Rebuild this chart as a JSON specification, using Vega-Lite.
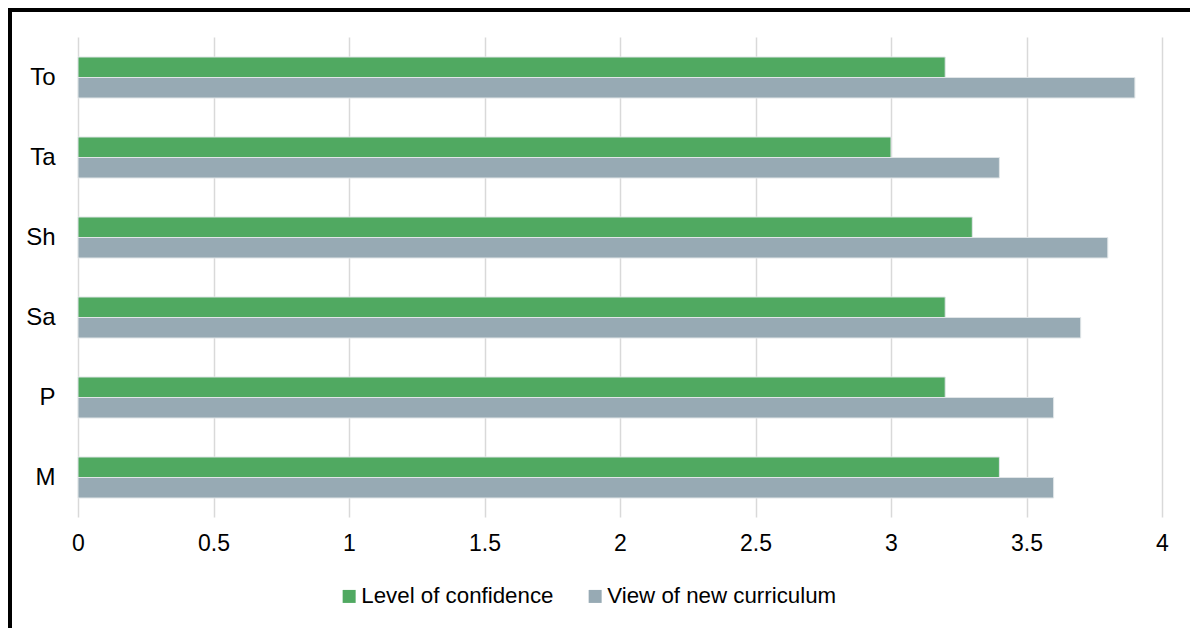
{
  "$schema": "https://vega.github.io/schema/vega-lite/v6.json",
  "width": 1180,
  "height": 618,
  "autosize": {"type": "none"},
  "padding": {"left": 10, "top": 10, "right": 0, "bottom": 0},
  "background": "white",
  "config": {
    "font": "Liberation Sans",
    "view": {
      "stroke": "black",
      "strokeWidth": 4,
      "strokeDash": [1180, 1798, 618],
      "strokeCap": "square"
    }
  },
  "data": {
    "values": [
      {"region": "To", "series": "Level of confidence", "value": 3.2},
      {"region": "To", "series": "View of new curriculum", "value": 3.9},
      {"region": "Ta", "series": "Level of confidence", "value": 3.0},
      {"region": "Ta", "series": "View of new curriculum", "value": 3.4},
      {"region": "Sh", "series": "Level of confidence", "value": 3.3},
      {"region": "Sh", "series": "View of new curriculum", "value": 3.8},
      {"region": "Sa", "series": "Level of confidence", "value": 3.2},
      {"region": "Sa", "series": "View of new curriculum", "value": 3.7},
      {"region": "P", "series": "Level of confidence", "value": 3.2},
      {"region": "P", "series": "View of new curriculum", "value": 3.6},
      {"region": "M", "series": "Level of confidence", "value": 3.4},
      {"region": "M", "series": "View of new curriculum", "value": 3.6}
    ]
  },
  "mark": {"type": "bar", "stroke": "#e1e6e8", "strokeWidth": 1},
  "encoding": {
    "y": {
      "field": "region",
      "type": "nominal",
      "sort": ["To", "Ta", "Sh", "Sa", "P", "M"],
      "scale": {"range": [27, 508], "paddingInner": 0.4875, "paddingOuter": 0.25},
      "axis": {
        "title": null,
        "orient": "left",
        "offset": -68,
        "domain": false,
        "ticks": false,
        "labelPadding": 23,
        "labelFontSize": 24,
        "labelColor": "#000000"
      }
    },
    "yOffset": {
      "field": "series",
      "sort": ["Level of confidence", "View of new curriculum"],
      "scale": {"paddingInner": 0, "paddingOuter": 0}
    },
    "x": {
      "field": "value",
      "type": "quantitative",
      "scale": {"domain": [0, 4], "range": [68, 1152], "nice": false},
      "axis": {
        "title": null,
        "orient": "bottom",
        "offset": -111,
        "values": [0, 0.5, 1, 1.5, 2, 2.5, 3, 3.5, 4],
        "format": "~g",
        "grid": false,
        "domain": false,
        "tickSize": -480,
        "tickColor": "#d9d9d9",
        "tickWidth": 1.5,
        "labelPadding": 495,
        "labelFontSize": 23,
        "labelColor": "#000000",
        "labelFlush": false,
        "labelOverlap": false
      }
    },
    "color": {
      "field": "series",
      "type": "nominal",
      "sort": ["Level of confidence", "View of new curriculum"],
      "scale": {"range": ["#50a961", "#97aab4"]},
      "legend": {
        "title": null,
        "orient": "none",
        "direction": "horizontal",
        "columns": 2,
        "legendX": 328,
        "legendY": 575,
        "symbolType": "square",
        "symbolSize": 169,
        "symbolStrokeWidth": 0,
        "symbolOpacity": 1,
        "labelFontSize": 22.3,
        "labelColor": "#000000",
        "labelOffset": 1,
        "columnPadding": 30,
        "labelLimit": 400
      }
    }
  }
}
